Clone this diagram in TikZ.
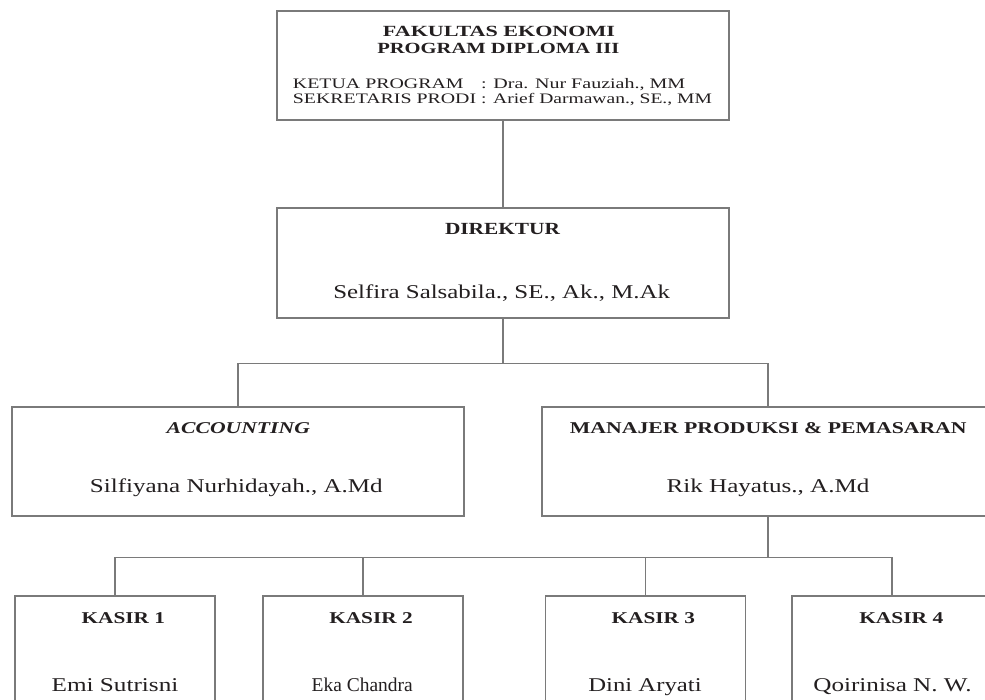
\documentclass[tikz,border=0pt]{standalone}
\usepackage{fontspec}
\setmainfont{Liberation Serif}
\usepackage{graphicx}
\definecolor{lncol}{HTML}{7A7A7A}
\definecolor{txcol}{HTML}{231F20}
\newcommand{\fitw}[2]{\resizebox{#1pt}{\height}{#2}}
\begin{document}
\begin{tikzpicture}[x=1pt,y=-1pt,
  box/.style={draw=lncol, line width=1.1pt, rectangle, inner sep=0pt, minimum width=452pt, minimum height=109pt},
  kbox/.style={draw=lncol, line width=1.1pt, rectangle, inner sep=0pt, minimum width=200pt, minimum height=130pt},
  conn/.style={draw=lncol, line width=1.1pt},
  txt/.style={inner sep=0pt, text=txcol, anchor=base},
  hdr/.style={txt, font=\fontsize{15.5}{18}\selectfont\bfseries},
  info/.style={txt, anchor=base west, font=\fontsize{14.5}{16}\selectfont},
  ttl/.style={txt, font=\fontsize{16.5}{19}\selectfont\bfseries},
  nm/.style={txt, font=\fontsize{19.5}{22}\selectfont}]
\useasboundingbox (0,0) rectangle (985,699);
\fill[white] (0,0) rectangle (985,699);
\clip (0,0) rectangle (985,699);

% boxes
\node[box] (fak) at (503,65.5) {};
\node[box, minimum height=110pt] (dir) at (503,263) {};
\node[box] (acc) at (238,461.5) {};
\node[box] (man) at (768,461.5) {};
\node[kbox] (k1) at (115,661) {};
\node[kbox] (k2) at (363,661) {};
\node[kbox] (k3) at (645.5,661) {};
\node[kbox] (k4) at (892,661) {};

% connectors
\draw[conn] (fak.south) -- (dir.north);
\draw[conn] (dir.south) -- ++(0,45) coordinate (j1);
\draw[conn] (acc.north) |- (j1) -| (man.north);
\draw[conn] (man.south) -- ++(0,41) coordinate (j2);
\draw[conn] (k1.north) |- (j2) -| (k4.north);
\draw[conn] (k2.north) -- (k2.north |- j2);
\draw[conn] (k3.north) -- (k3.north |- j2);

% texts
\node[hdr] (fak1) at (499,36) {\fitw{232}{FAKULTAS EKONOMI}};
\node[hdr] (fak2) at (498.3,53.5) {\fitw{242}{PROGRAM DIPLOMA III}};
\node[info] (fak3a) at (292.7,88.6) {\fitw{170.7}{KETUA PROGRAM}};
\node[info] (fak3b) at (481,88.6) {\fitw{204}{: Dra. Nur Fauziah., MM}};
\node[info] (fak4a) at (292.7,103) {\fitw{183.3}{SEKRETARIS PRODI}};
\node[info] (fak4b) at (481,103) {\fitw{230.7}{: Arief Darmawan., SE., MM}};

\node[ttl, font=\fontsize{17}{20}\selectfont\bfseries] (dir1) at (502.5,234.3) {\fitw{115}{DIREKTUR}};
\node[nm] (dir2) at (501.7,298.5) {\fitw{336.7}{Selfira Salsabila., SE., Ak., M.Ak}};

\node[ttl, font=\fontsize{16.5}{19}\selectfont\bfseries\itshape] (acc1) at (238.3,433.3) {\fitw{143.3}{ACCOUNTING}};
\node[nm] (acc2) at (236.3,492.7) {\fitw{292.7}{Silfiyana Nurhidayah., A.Md}};

\node[ttl] (man1) at (768.3,433.3) {\fitw{396.7}{MANAJER PRODUKSI \& PEMASARAN}};
\node[nm] (man2) at (768,492.7) {\fitw{202.7}{Rik Hayatus., A.Md}};

\node[ttl] (k1a) at (123.3,623) {\fitw{83.3}{KASIR 1}};
\node[nm] (k1b) at (115,691) {\fitw{126.7}{Emi Sutrisni}};
\node[ttl] (k2a) at (371,623) {\fitw{83.3}{KASIR 2}};
\node[nm] (k2b) at (362.2,691) {\fitw{101}{Eka Chandra}};
\node[ttl] (k3a) at (653.3,623) {\fitw{83.3}{KASIR 3}};
\node[nm] (k3b) at (645,691) {\fitw{113.3}{Dini Aryati}};
\node[ttl] (k4a) at (901.3,623) {\fitw{84}{KASIR 4}};
\node[nm] (k4b) at (892.5,691) {\fitw{158.3}{Qoirinisa N. W.}};
\end{tikzpicture}
\end{document}
